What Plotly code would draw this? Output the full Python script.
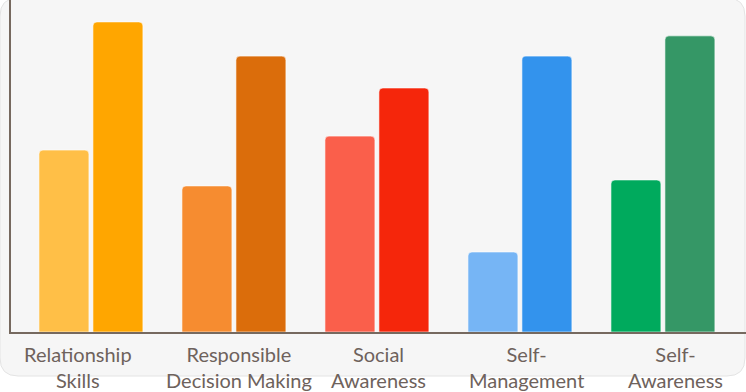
import plotly.graph_objects as go

categories = ["Relationship Skills", "Responsible Decision Making", "Social Awareness",
              "Self-Management", "Self-Awareness"]
tick_labels = ["Relationship<br>Skills", "Responsible<br>Decision Making", "Social<br>Awareness",
               "Self-<br>Management", "Self-<br>Awareness"]
before = [54.8, 44.0, 59.0, 24.1, 45.8]
after = [93.4, 83.1, 73.5, 83.1, 89.2]
before_colors = ["#ffbf47", "#f68c30", "#fa5f4b", "#76b5f5", "#00aa5d"]
after_colors = ["#ffa600", "#db6d0b", "#f5260b", "#3393ed", "#359766"]
label_shift = [-13, 5, 2, 7, 13]

W, H = 746, 392
ml, mr, mt, mb = 11, 0, 0, 60
pw, ph = W - ml - mr, H - mt - mb

fig = go.Figure()
fig.add_trace(go.Bar(x=categories, y=before, marker=dict(color=before_colors, cornerradius=4,
                     line=dict(color="rgba(255,255,255,0.6)", width=1)), showlegend=False))
fig.add_trace(go.Bar(x=categories, y=after, marker=dict(color=after_colors, cornerradius=4,
                     line=dict(color="rgba(255,255,255,0.6)", width=1)), showlegend=False))

# background panel (rounded rectangle) in pixel -> paper coords
def px(x):
    return (x - ml) / pw
def py(y):
    return (H - mb - y) / ph
x0, x1, y0, y1, r = 0, 745, -2, 376, 18
path = (f"M {px(x0+r)},{py(y0)} L {px(x1-r)},{py(y0)} Q {px(x1)},{py(y0)} {px(x1)},{py(y0+r)} "
        f"L {px(x1)},{py(y1-r)} Q {px(x1)},{py(y1)} {px(x1-r)},{py(y1)} "
        f"L {px(x0+r)},{py(y1)} Q {px(x0)},{py(y1)} {px(x0)},{py(y1-r)} "
        f"L {px(x0)},{py(y0+r)} Q {px(x0)},{py(y0)} {px(x0+r)},{py(y0)} Z")
fig.add_shape(type="path", path=path, xref="paper", yref="paper", layer="below",
              fillcolor="#f6f6f6", line=dict(color="#e4e4e4", width=1))

for c, t, s in zip(categories, tick_labels, label_shift):
    fig.add_annotation(x=c, y=0, xref="x", yref="paper", yanchor="top", yshift=-8, xshift=s,
                       text=t, showarrow=False, align="center",
                       font=dict(family="Lato", size=20, color="#6e625c"))

fig.update_layout(
    width=W, height=H, margin=dict(l=ml, r=mr, t=mt, b=mb),
    paper_bgcolor="white", plot_bgcolor="rgba(0,0,0,0)",
    barmode="group", bargap=0.245, bargroupgap=0.074,
    xaxis=dict(range=[-0.559, 4.581], showticklabels=False, ticks="", showgrid=False,
               showline=True, linecolor="#76695f", linewidth=2, zeroline=False),
    yaxis=dict(range=[0, 100], showticklabels=False, ticks="", showgrid=False,
               showline=True, linecolor="#76695f", linewidth=2, zeroline=False),
)
fig.write_html("out.html")
